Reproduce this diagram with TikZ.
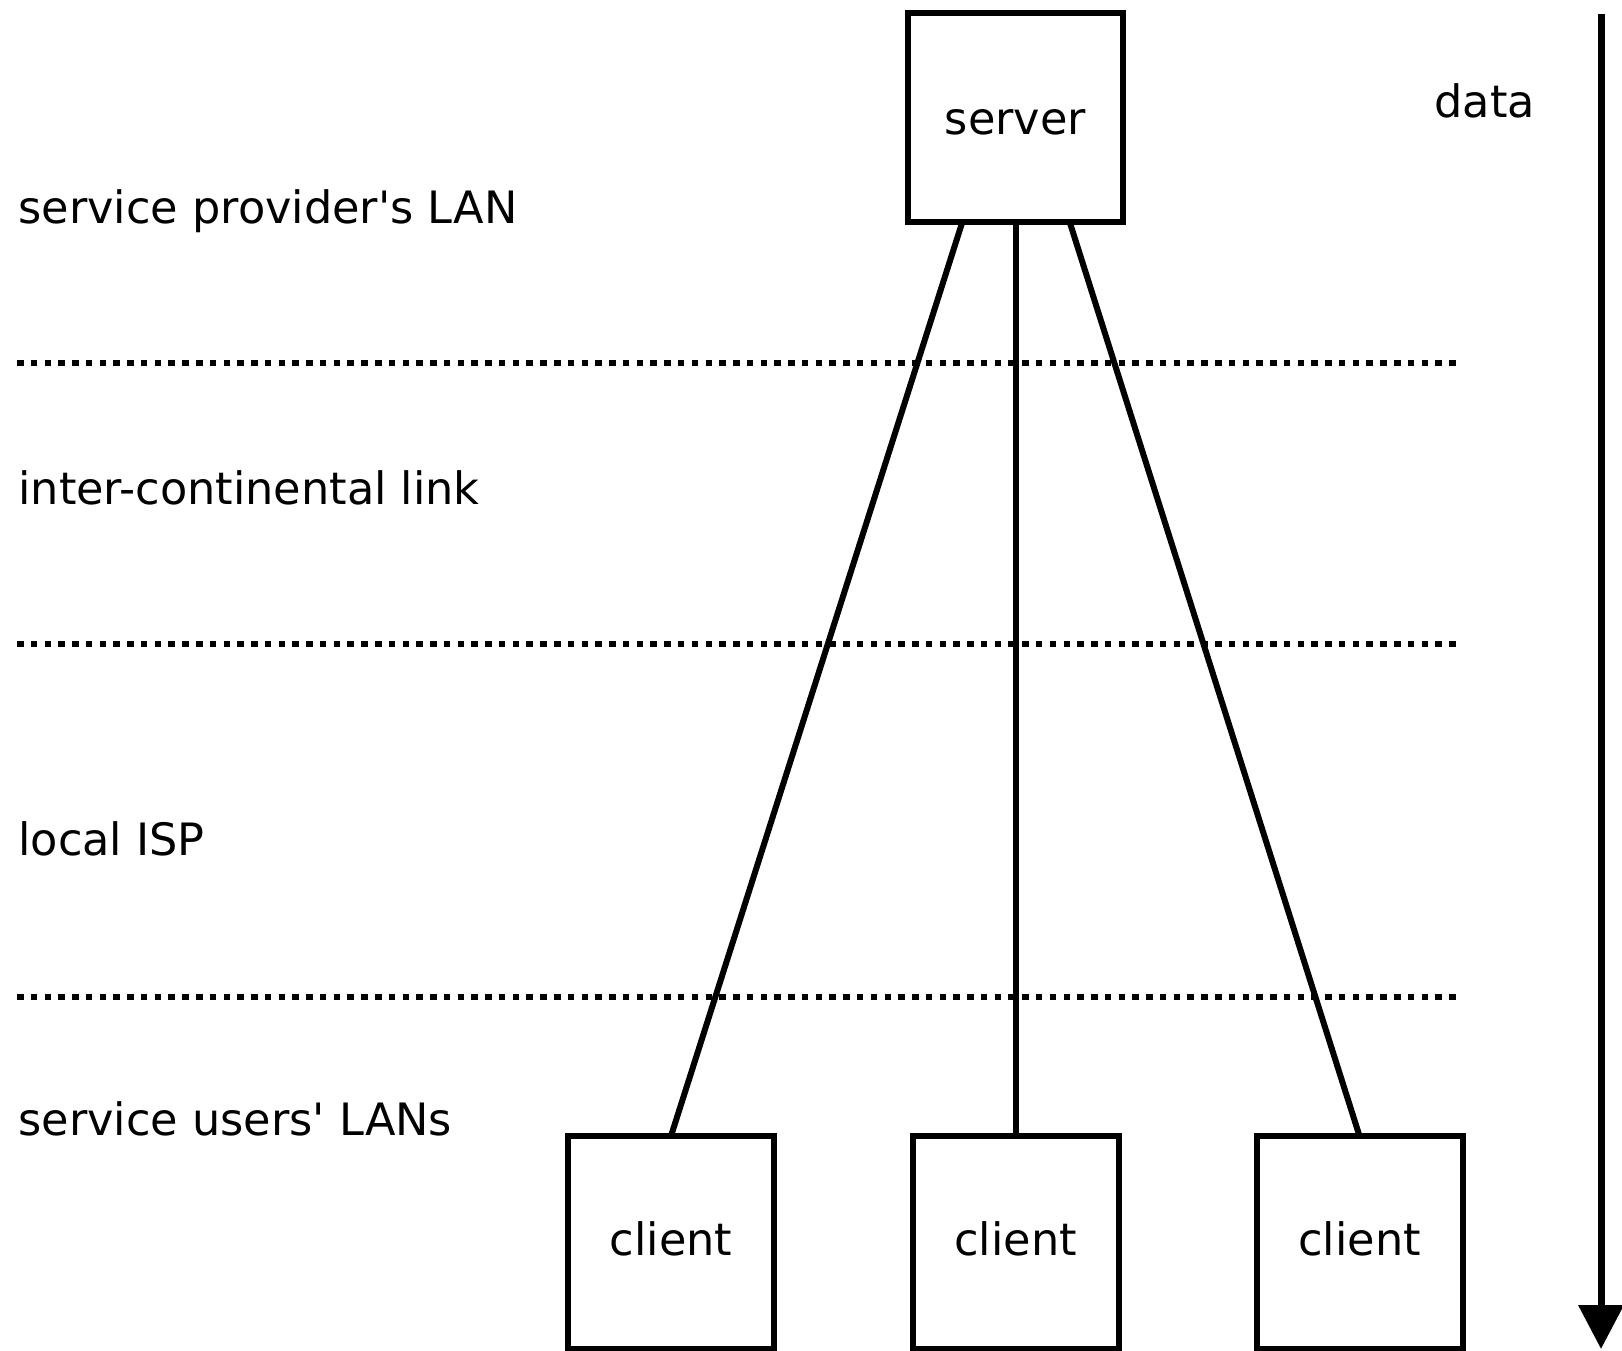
\documentclass[tikz,border=0pt]{standalone}
\usepackage{fontspec}
\setmainfont{DejaVu Sans}[Ligatures=TeXOff]
\usetikzlibrary{arrows.meta}
\begin{document}
\begin{tikzpicture}[x=0.5pt,y=-0.5pt,
  labelfont/.style={font=\fontsize{22.3pt}{26pt}\selectfont},
  nodebox/.style={draw=black, line width=3pt, inner sep=0pt, outer sep=0pt,
    labelfont, text depth=0pt},
  serverbox/.style={nodebox, minimum width=107.5pt, minimum height=104.5pt, text height=17pt},
  clientbox/.style={nodebox, minimum width=103pt, minimum height=106.5pt, text height=12.5pt},
  layer/.style={anchor=base west, inner sep=0pt, labelfont},
  separator/.style={line width=3pt, dash pattern=on 3.25pt off 3.635pt},
  link/.style={line width=3pt},
  flow/.style={line width=3.5pt, -{Triangle[width=22pt,length=22pt]}}]

  % page frame
  \fill[white] (0,0) rectangle (1622,1350);
  \useasboundingbox (0,0) rectangle (1622,1350);

  % layer names
  \node[layer] (lan)   at (18,223)  {service provider's LAN};
  \node[layer] (inter) at (18,504)  {inter-continental link};
  \node[layer] (isp)   at (18,855)  {local ISP};
  \node[layer] (users) at (18,1135) {service users' LANs};
  \node[layer] (data)  at (1434,117) {data};

  % layer boundaries
  \coordinate (s1a) at (17,363);  \coordinate (s1b) at (1457,363);
  \coordinate (s2a) at (17,644);  \coordinate (s2b) at (1457,644);
  \coordinate (s3a) at (17,997);  \coordinate (s3b) at (1457,997);
  \draw[separator] (s1a) -- (s1b);
  \draw[separator] (s2a) -- (s2b);
  \draw[separator] (s3a) -- (s3b);

  % hosts
  \node[serverbox] (server) at (1015.5,117) {server};
  \node[clientbox] (c1) at (671,1242.5)    {client};
  \node[clientbox] (c2) at (1015.5,1242.5) {client};
  \node[clientbox] (c3) at (1359.5,1242.5) {client};

  % links
  \draw[link] ([xshift=-26.5pt]server.south) -- (c1.north);
  \draw[link] (server.south) -- (c2.north);
  \draw[link] ([xshift=27pt]server.south) -- (c3.north);

  % direction of data flow
  \coordinate (flowtop) at (1601,14);
  \coordinate (flowend) at (1601,1349);
  \draw[flow] (flowtop) -- (flowend);
\end{tikzpicture}
\end{document}
